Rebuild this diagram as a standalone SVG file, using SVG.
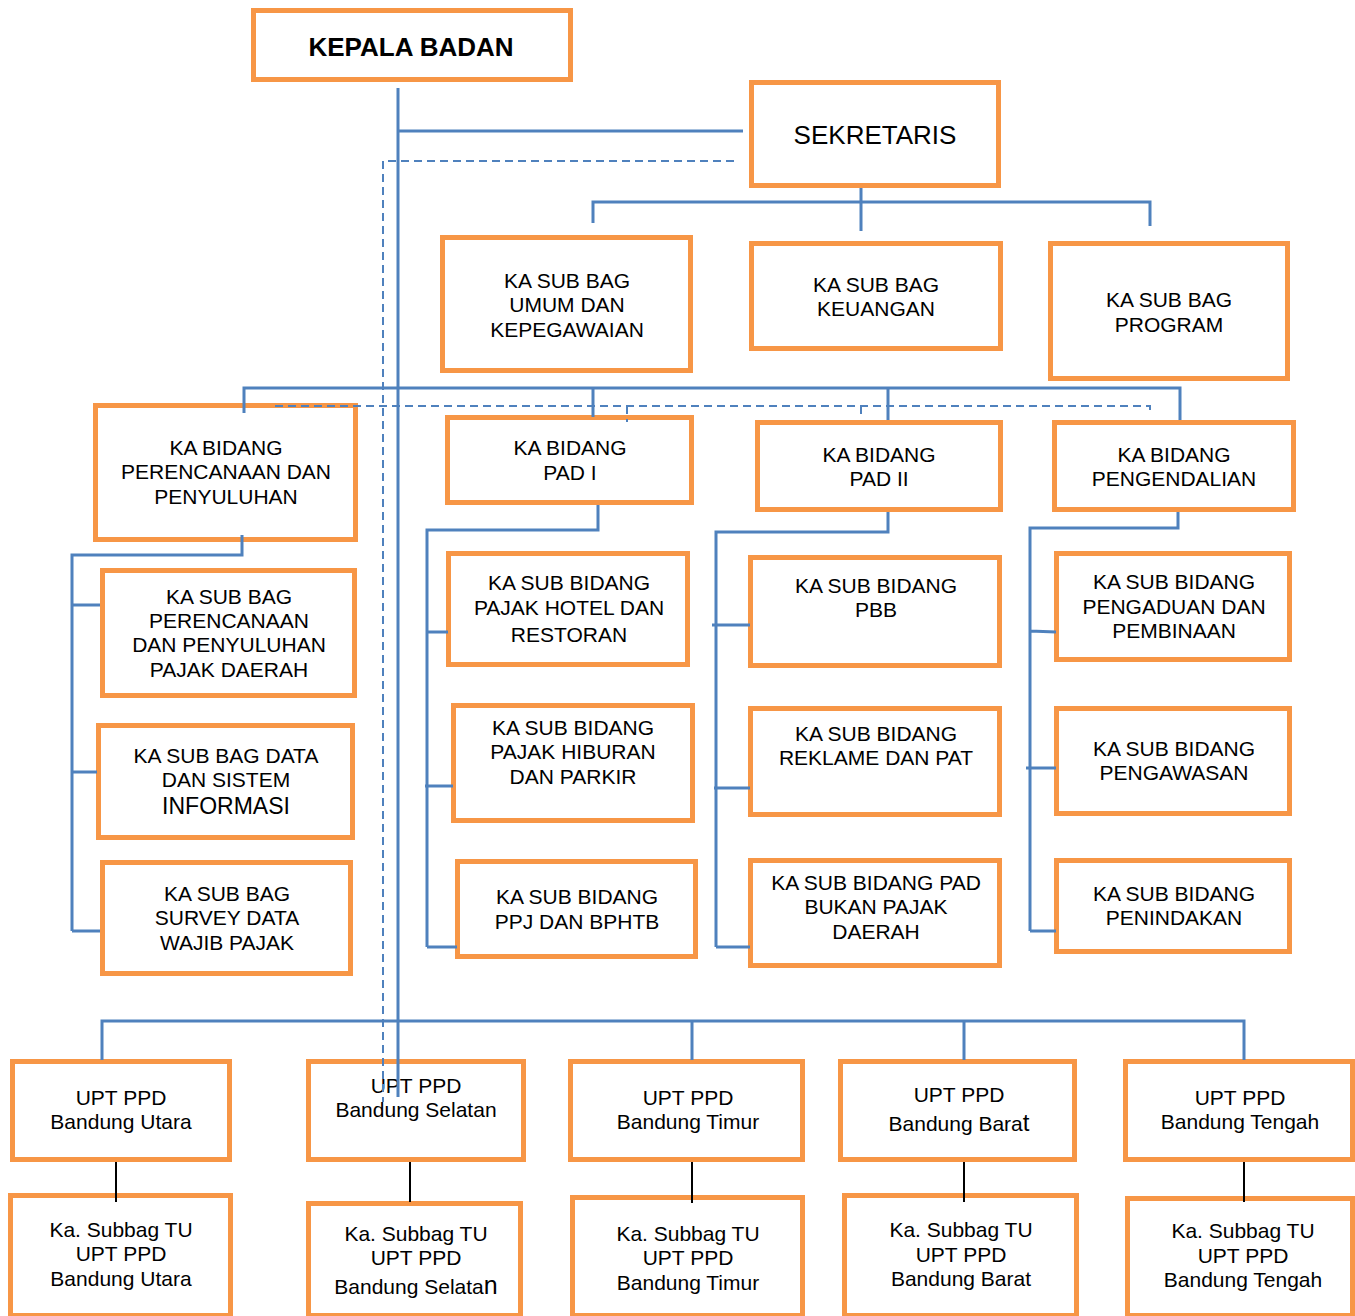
<svg xmlns="http://www.w3.org/2000/svg" width="1355" height="1316" viewBox="0 0 1355 1316">
<style>
.box{fill:#fff;stroke:#F79646;stroke-width:5}
.t{font-family:"Liberation Sans",Arial,sans-serif;font-size:21px;fill:#000;text-anchor:middle}
.ln{fill:none;stroke:#4F81BD;stroke-width:3}
.dl{fill:none;stroke:#4F81BD;stroke-width:2;stroke-dasharray:8 5}
.bk{fill:none;stroke:#000;stroke-width:2}
</style>
<rect width="1355" height="1316" fill="#fff"/>
<g id="kepala"><rect class="box" x="253.5" y="10.5" width="317" height="69"/><text class="t" x="411" y="56" style="font-size:26px;font-weight:bold">KEPALA BADAN</text></g>
<g id="sekretaris"><rect class="box" x="751.5" y="82.5" width="247" height="103"/><text class="t" x="875" y="144" style="font-size:26px">SEKRETARIS</text></g>
<g id="umum"><rect class="box" x="442.5" y="237.5" width="248" height="133"/><text class="t" x="567" y="288">KA SUB BAG</text><text class="t" x="567" y="312">UMUM DAN</text><text class="t" x="567" y="337">KEPEGAWAIAN</text></g>
<g id="keuangan"><rect class="box" x="751.5" y="243.5" width="249" height="105"/><text class="t" x="876" y="292">KA SUB BAG</text><text class="t" x="876" y="316">KEUANGAN</text></g>
<g id="program"><rect class="box" x="1050.5" y="243.5" width="237" height="135"/><text class="t" x="1169" y="307">KA SUB BAG</text><text class="t" x="1169" y="332">PROGRAM</text></g>
<g id="bid-perencanaan"><rect class="box" x="95.5" y="405.5" width="260" height="134"/><text class="t" x="226" y="455">KA BIDANG</text><text class="t" x="226" y="479">PERENCANAAN DAN</text><text class="t" x="226" y="504">PENYULUHAN</text></g>
<g id="bid-pad1"><rect class="box" x="447.5" y="417.5" width="244" height="85"/><text class="t" x="570" y="455">KA BIDANG</text><text class="t" x="570" y="480">PAD I</text></g>
<g id="bid-pad2"><rect class="box" x="757.5" y="422.5" width="243" height="87"/><text class="t" x="879" y="462">KA BIDANG</text><text class="t" x="879" y="486">PAD II</text></g>
<g id="bid-pengendalian"><rect class="box" x="1054.5" y="422.5" width="239" height="87"/><text class="t" x="1174" y="462">KA BIDANG</text><text class="t" x="1174" y="486">PENGENDALIAN</text></g>
<g id="sb-perencanaan"><rect class="box" x="102.5" y="570.5" width="252" height="125"/><text class="t" x="229" y="604">KA SUB BAG</text><text class="t" x="229" y="628">PERENCANAAN</text><text class="t" x="229" y="652">DAN PENYULUHAN</text><text class="t" x="229" y="677">PAJAK DAERAH</text></g>
<g id="sb-data"><rect class="box" x="98.5" y="725.5" width="254" height="112"/><text class="t" x="226" y="763">KA SUB BAG DATA</text><text class="t" x="226" y="787">DAN SISTEM</text><text class="t" x="226" y="814" style="font-size:23px">INFORMASI</text></g>
<g id="sb-survey"><rect class="box" x="102.5" y="862.5" width="248" height="111"/><text class="t" x="227" y="901">KA SUB BAG</text><text class="t" x="227" y="925">SURVEY DATA</text><text class="t" x="227" y="950">WAJIB PAJAK</text></g>
<g id="sbd-hotel"><rect class="box" x="448.5" y="553.5" width="239" height="111"/><text class="t" x="569" y="590">KA SUB BIDANG</text><text class="t" x="569" y="615">PAJAK HOTEL DAN</text><text class="t" x="569" y="642">RESTORAN</text></g>
<g id="sbd-hiburan"><rect class="box" x="453.5" y="705.5" width="239" height="115"/><text class="t" x="573" y="735">KA SUB BIDANG</text><text class="t" x="573" y="759">PAJAK HIBURAN</text><text class="t" x="573" y="784">DAN PARKIR</text></g>
<g id="sbd-ppj"><rect class="box" x="457.5" y="861.5" width="238" height="95"/><text class="t" x="577" y="904">KA SUB BIDANG</text><text class="t" x="577" y="929">PPJ DAN BPHTB</text></g>
<g id="sbd-pbb"><rect class="box" x="750.5" y="557.5" width="249" height="108"/><text class="t" x="876" y="593">KA SUB BIDANG</text><text class="t" x="876" y="617">PBB</text></g>
<g id="sbd-reklame"><rect class="box" x="750.5" y="708.5" width="249" height="106"/><text class="t" x="876" y="741">KA SUB BIDANG</text><text class="t" x="876" y="765">REKLAME DAN PAT</text></g>
<g id="sbd-bukanpajak"><rect class="box" x="750.5" y="860.5" width="249" height="105"/><text class="t" x="876" y="890">KA SUB BIDANG PAD</text><text class="t" x="876" y="914">BUKAN PAJAK</text><text class="t" x="876" y="939">DAERAH</text></g>
<g id="sbd-pengaduan"><rect class="box" x="1056.5" y="553.5" width="233" height="106"/><text class="t" x="1174" y="589">KA SUB BIDANG</text><text class="t" x="1174" y="614">PENGADUAN DAN</text><text class="t" x="1174" y="638">PEMBINAAN</text></g>
<g id="sbd-pengawasan"><rect class="box" x="1056.5" y="708.5" width="233" height="105"/><text class="t" x="1174" y="756">KA SUB BIDANG</text><text class="t" x="1174" y="780">PENGAWASAN</text></g>
<g id="sbd-penindakan"><rect class="box" x="1056.5" y="860.5" width="233" height="91"/><text class="t" x="1174" y="901">KA SUB BIDANG</text><text class="t" x="1174" y="925">PENINDAKAN</text></g>
<g id="upt-utara"><rect class="box" x="12.5" y="1061.5" width="217" height="98"/><text class="t" x="121" y="1105">UPT PPD</text><text class="t" x="121" y="1129">Bandung Utara</text></g>
<g id="upt-selatan"><rect class="box" x="308.5" y="1061.5" width="215" height="98"/><text class="t" x="416" y="1093">UPT PPD</text><text class="t" x="416" y="1117">Bandung Selatan</text></g>
<g id="upt-timur"><rect class="box" x="570.5" y="1061.5" width="232" height="98"/><text class="t" x="688" y="1105">UPT PPD</text><text class="t" x="688" y="1129">Bandung Timur</text></g>
<g id="upt-barat"><rect class="box" x="840.5" y="1061.5" width="234" height="98"/><text class="t" x="959" y="1102">UPT PPD</text><text class="t" x="959" y="1131">Bandung Bara<tspan style="font-size:24px">t</tspan></text></g>
<g id="upt-tengah"><rect class="box" x="1125.5" y="1061.5" width="227" height="98"/><text class="t" x="1240" y="1105">UPT PPD</text><text class="t" x="1240" y="1129">Bandung Tengah</text></g>
<g id="tu-utara"><rect class="box" x="10.5" y="1195.5" width="220" height="120"/><text class="t" x="121" y="1237">Ka. Subbag TU</text><text class="t" x="121" y="1261">UPT PPD</text><text class="t" x="121" y="1286">Bandung Utara</text></g>
<g id="tu-selatan"><rect class="box" x="308.5" y="1203.5" width="212" height="112"/><text class="t" x="416" y="1241">Ka. Subbag TU</text><text class="t" x="416" y="1265">UPT PPD</text><text class="t" x="416" y="1294">Bandung Selata<tspan style="font-size:25px">n</tspan></text></g>
<g id="tu-timur"><rect class="box" x="572.5" y="1197.5" width="230" height="118"/><text class="t" x="688" y="1241">Ka. Subbag TU</text><text class="t" x="688" y="1265">UPT PPD</text><text class="t" x="688" y="1290">Bandung Timur</text></g>
<g id="tu-barat"><rect class="box" x="844.5" y="1195.5" width="232" height="120"/><text class="t" x="961" y="1237">Ka. Subbag TU</text><text class="t" x="961" y="1262">UPT PPD</text><text class="t" x="961" y="1286">Bandung Barat</text></g>
<g id="tu-tengah"><rect class="box" x="1127.5" y="1198.5" width="225" height="117"/><text class="t" x="1243" y="1238">Ka. Subbag TU</text><text class="t" x="1243" y="1263">UPT PPD</text><text class="t" x="1243" y="1287">Bandung Tengah</text></g>
<g id="connectors">
<path class="ln" d="M398 88V1097M398 131H743"/>
<path class="dl" d="M734 161H383V1102"/>
<path class="ln" d="M861 188V231M593 223V202H1150V226"/>
<path class="ln" d="M244 413V388H1180V420M593 388V417M888 388V420"/>
<path class="dl" d="M275 406H1150V414M627 406V422M861 406V414"/>
<path class="ln" d="M242 535V555H72V931M72 605H100M72 772H97M72 931H100"/>
<path class="ln" d="M598 505V530H427V947M427 632H448M425 786H453M427 947H457"/>
<path class="ln" d="M888 512V532H716V947M712 625H750M714 788H750M716 947H750"/>
<path class="ln" d="M1178 512V528H1030V931M1030 631L1056 632M1026 768H1056M1030 931H1056"/>
<path class="ln" stroke="#5B8BD0" d="M102 1060V1021H1244V1060M692 1021V1060M964 1021V1060"/>
<path class="bk" d="M116 1162V1202M410 1162V1202M692 1162V1203M964 1162V1202M1244 1162V1202"/>
</g>
</svg>
